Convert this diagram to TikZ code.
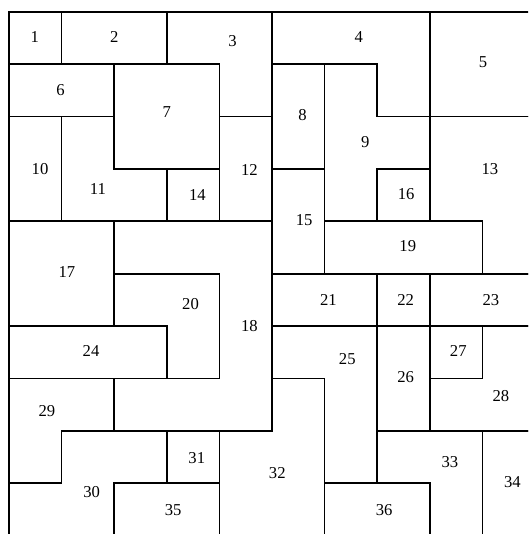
\documentclass[tikz,border=0pt]{standalone}
\usepackage{fontspec}
\setmainfont{Liberation Serif}
\begin{document}
\begin{tikzpicture}[
    x=1cm, y=-0.996cm,
    font=\fontsize{9}{11}\selectfont,
    piece/.style={draw, line width=0.9pt, line join=miter},
    num/.style={inner sep=0pt}
]
\useasboundingbox (-0.171,-0.223) rectangle (9.867,9.968);
\clip (-0.171,-0.223) rectangle (9.867,9.968);

% pieces, in grid cells (x to the right, rows downward); 10.5 runs past the cut edge
\draw[piece] (0,0) rectangle (1,1);
\draw[piece] (1,0) rectangle (3,1);
\draw[piece] (3,0) -- (5,0) -- (5,2) -- (4,2) -- (4,1) -- (3,1) -- cycle;
\draw[piece] (5,0) -- (8,0) -- (8,2) -- (7,2) -- (7,1) -- (5,1) -- cycle;
\draw[piece] (8,0) rectangle (10.5,2);
\draw[piece] (0,1) rectangle (2,2);
\draw[piece] (2,1) rectangle (4,3);
\draw[piece] (5,1) rectangle (6,3);
\draw[piece] (6,1) -- (7,1) -- (7,2) -- (8,2) -- (8,3) -- (7,3) -- (7,4) -- (6,4) -- cycle;
\draw[piece] (0,2) rectangle (1,4);
\draw[piece] (1,2) -- (2,2) -- (2,3) -- (3,3) -- (3,4) -- (1,4) -- cycle;
\draw[piece] (4,2) rectangle (5,4);
\draw[piece] (8,2) -- (10.5,2) -- (10.5,5) -- (9,5) -- (9,4) -- (8,4) -- cycle;
\draw[piece] (3,3) rectangle (4,4);
\draw[piece] (5,3) rectangle (6,5);
\draw[piece] (7,3) rectangle (8,4);
\draw[piece] (0,4) rectangle (2,6);
\draw[piece] (2,4) -- (5,4) -- (5,8) -- (2,8) -- (2,7) -- (4,7) -- (4,5) -- (2,5) -- cycle;
\draw[piece] (6,4) rectangle (9,5);
\draw[piece] (2,5) -- (4,5) -- (4,7) -- (3,7) -- (3,6) -- (2,6) -- cycle;
\draw[piece] (5,5) rectangle (7,6);
\draw[piece] (7,5) rectangle (8,6);
\draw[piece] (8,5) rectangle (10.5,6);
\draw[piece] (0,6) rectangle (3,7);
\draw[piece] (5,6) -- (7,6) -- (7,9) -- (6,9) -- (6,7) -- (5,7) -- cycle;
\draw[piece] (7,6) rectangle (8,8);
\draw[piece] (8,6) rectangle (9,7);
\draw[piece] (9,6) -- (10.5,6) -- (10.5,8) -- (8,8) -- (8,7) -- (9,7) -- cycle;
\draw[piece] (0,7) -- (2,7) -- (2,8) -- (1,8) -- (1,9) -- (0,9) -- cycle;
\draw[piece] (1,8) -- (3,8) -- (3,9) -- (2,9) -- (2,10.5) -- (0,10.5) -- (0,9) -- (1,9) -- cycle;
\draw[piece] (3,8) rectangle (4,9);
\draw[piece] (5,7) -- (6,7) -- (6,10.5) -- (4,10.5) -- (4,8) -- (5,8) -- cycle;
\draw[piece] (7,8) -- (9,8) -- (9,10.5) -- (8,10.5) -- (8,9) -- (7,9) -- cycle;
\draw[piece] (9,8) rectangle (10.5,10.5);
\draw[piece] (2,9) rectangle (4,10.5);
\draw[piece] (6,9) rectangle (8,10.5);

% numbers
\node[num] (n1) at (0.49,0.49) {1};
\node[num] (n2) at (2.00,0.49) {2};
\node[num] (n3) at (4.25,0.57) {3};
\node[num] (n4) at (6.65,0.48) {4};
\node[num] (n5) at (9.01,0.97) {5};
\node[num] (n6) at (0.98,1.49) {6};
\node[num] (n7) at (3.00,1.92) {7};
\node[num] (n8) at (5.58,1.97) {8};
\node[num] (n9) at (6.77,2.48) {9};
\node[num] (n10) at (0.59,3.01) {10};
\node[num] (n11) at (1.69,3.39) {11};
\node[num] (n12) at (4.57,3.02) {12};
\node[num] (n13) at (9.14,3.01) {13};
\node[num] (n14) at (3.58,3.50) {14};
\node[num] (n15) at (5.61,3.97) {15};
\node[num] (n16) at (7.55,3.48) {16};
\node[num] (n17) at (1.10,4.97) {17};
\node[num] (n18) at (4.57,5.99) {18};
\node[num] (n19) at (7.58,4.47) {19};
\node[num] (n20) at (3.45,5.58) {20};
\node[num] (n21) at (6.07,5.50) {21};
\node[num] (n22) at (7.54,5.50) {22};
\node[num] (n23) at (9.16,5.50) {23};
\node[num] (n24) at (1.56,6.47) {24};
\node[num] (n25) at (6.43,6.63) {25};
\node[num] (n26) at (7.54,6.98) {26};
\node[num] (n27) at (8.54,6.47) {27};
\node[num] (n28) at (9.35,7.33) {28};
\node[num] (n29) at (0.72,7.63) {29};
\node[num] (n30) at (1.57,9.16) {30};
\node[num] (n31) at (3.57,8.51) {31};
\node[num] (n32) at (5.10,8.80) {32};
\node[num] (n33) at (8.38,8.59) {33};
\node[num] (n34) at (9.57,8.97) {34};
\node[num] (n35) at (3.12,9.51) {35};
\node[num] (n36) at (7.13,9.51) {36};
\end{tikzpicture}
\end{document}
